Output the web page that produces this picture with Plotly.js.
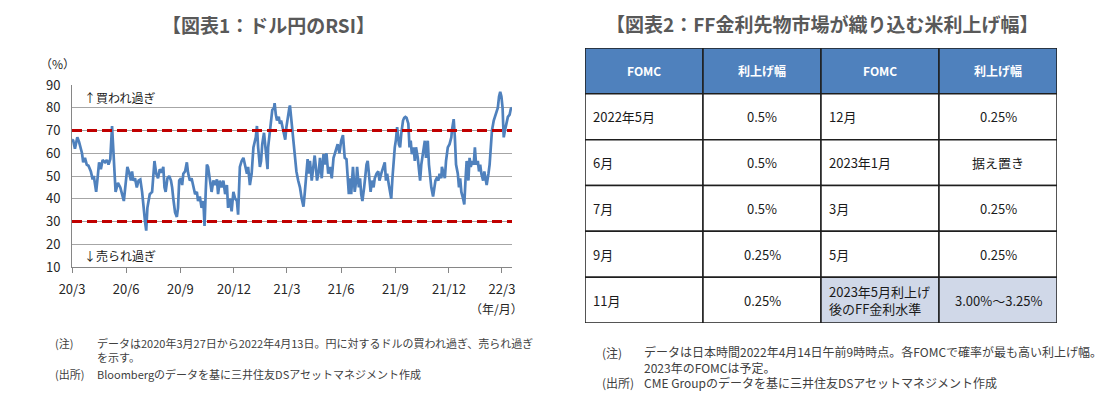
<!DOCTYPE html>
<html>
<head>
<meta charset="utf-8">
<script src="https://cdn.plot.ly/plotly-3.0.1.min.js"></script>
<style>
  html, body { margin: 0; padding: 0; background: #ffffff; }
  #chart { width: 1118px; height: 397px; }
</style>
</head>
<body>
<div id="chart"></div>
<script>
// ---------- Data: USD/JPY RSI ----------
const startDate = '2020-03-27';
const endDate = '2022-04-13';
// days elapsed since startDate for each reading
const dayOffset = [0,2,5,9,12,17,19,22,25,28,32,35,37,41,43,46,49,52,56,59,62,65,68,69,72,74,78,82,85,88,92,94,97,100,102,104,107,110,113,116,119,121,124,126,128,132,136,140,143,
146,149,152,155,157,159,162,165,168,170,172,175,178,180,182,185,187,189,192,195,197,200,203,206,209,212,214,217,220,223,225,227,229,231,234,237,240,243,246,248,251,254,257,260,263,265,268,271,274,277,280,282,285,288,291,294,297,299,
302,305,306,308,312,314,316,319,321,323,326,328,330,332,333,336,338,340,343,344,346,348,351,353,355,357,360,362,364,366,369,370,373,376,378,381,384,387,390,393,395,398,400,402,404,407,410,412,414,416,419,421,424,427,429,432,435,438,441,444,446,449,
451,454,457,460,463,466,468,470,472,474,477,480,483,484,487,489,491,493,496,498,500,502,505,507,509,512,514,517,520,522,525,528,531,533,535,538,540,542,544,546,548,550,552,555,557,559,562,564,566,568,571,573,575,577,580,582,584,587,589,591,593,596,599,
601,604,606,608,610,613,615,617,619,622,624,627,628,631,633,635,638,641,644,645,648,650,651,652,655,657,659,661,664,666,668,670,673,675,677,679,682,684,686,689,691,693,695,698,700,702,704,707,709,711,713,716,718,720,723,725,727,729,731,732,733,735,737,740,743,745,747];
const rsi = [66,65.6,62,67,65,60,56,58,55,54.5,52,48.5,50,43,48,56,53,57,56,57,55,57.5,72,67,53,43,47,45,42,39,49,54,51.5,48,52,48,49,45,48,48.5,43,37,30,26,36,42,43,56.6,51,
49,53,51.5,54,45,43,49,50,48,45,40,34,32,36,48,49,46,51,52,56,51.5,48,49,45,42,43,39,41,36,39,28,43,55,54,48,43,48,46,48.5,42,48,45,48,42,46,36,40,34.5,43,40,39,33,54,56.6,58,54.5,51,54,
46,51,55,62.6,67,72,62.6,54,56.6,64,69,62.6,56.6,53,62.6,70,73,79,80,82,77,74.4,76,73,74.4,71.5,68.5,66,71.5,76,80,81,73,64,56.6,52,48,45,40,36.5,42,52,57.4,51,56.6,48,55,59,54,48,52,58,49,59.6,55,60,51,54,49,58,59.6,62.6,
64,60,65.5,68,58,57.4,48,42,49,42,54,43,49,54,45,49,42,39,45,51,55,56.6,49,43,48,45,49,51,52,48,51,54,56,48,51,46,42,40,49,58,62.6,66,71.5,64,62.6,68.5,74.4,75.6,76,75.6,73,62.6,65.5,59.6,62.6,56.6,62.6,58,54,48,55,59.6,65.5,
58,65.5,55,49,45,41,45,48,49,48,51,49,54,50,49,56.6,62.6,64,67,70,75,67,62.6,55,51,45,49,43,40,37.5,48,56.6,48,58,54,56.6,55,62.6,55,56.6,52,55,51,48,52,49,46,51,55,62.6,70,74.4,76,77,80,85,87,85,80,73,67,70,73,76,77,79.5,80];

const xTickDates = ['2020-03-27','2020-06-27','2020-09-27','2020-12-27','2021-03-27','2021-06-27','2021-09-27','2021-12-27','2022-03-27'];
const xTickLabels = ['20/3','20/6','20/9','20/12','21/3','21/6','21/9','21/12','22/3'];
const yTicks = [10,20,30,40,50,60,70,80,90];
const thresholds = [70, 30];

// ---------- Data: FOMC table ----------
const tableHeader = ['FOMC','利上げ幅','FOMC','利上げ幅'];
const fomcLeft = ['2022年5月','6月','7月','9月','11月'];
const hikeLeft = ['0.5%','0.5%','0.5%','0.25%','0.25%'];
const fomcRight = ['12月','2023年1月','3月','5月','2023年5月利上げ<br>後のFF金利水準'];
const hikeRight = ['0.25%','据え置き','0.25%','0.25%','3.00%～3.25%'];

// ---------- Texts ----------
const title1 = '【図表1：ドル円のRSI】';
const title2 = '【図表2：FF金利先物市場が織り込む米利上げ幅】';
const note1 = ['データは2020年3月27日から2022年4月13日。円に対するドルの買われ過ぎ、売られ過ぎ','を示す。'];
const source1 = 'Bloombergのデータを基に三井住友DSアセットマネジメント作成';
const note2 = ['データは日本時間2022年4月14日午前9時時点。各FOMCで確率が最も高い利上げ幅。','2023年のFOMCは予定。'];
const source2 = 'CME Groupのデータを基に三井住友DSアセットマネジメント作成';

// ---------- Build ----------
const W = 1118, H = 397;
const px = v => v / W;
const py = v => 1 - v / H;
const FONT = '"Noto Sans CJK JP", "Noto Sans", sans-serif';

function addDays(base, n) {
  const p = base.split('-').map(Number);
  const d = new Date(Date.UTC(p[0], p[1] - 1, p[2] + n));
  return d.toISOString().slice(0, 10);
}
const dates = dayOffset.map(d => addDays(startDate, d));

const traces = [
  {
    type: 'scatter', mode: 'lines', x: dates, y: rsi,
    line: { color: '#4f81bd', width: 2.7 }, hoverinfo: 'skip',
    xaxis: 'x', yaxis: 'y'
  },
  {
    type: 'scatter', mode: 'markers', x: [0.5], y: [0.5],
    marker: { opacity: 0 }, hoverinfo: 'skip', xaxis: 'x2', yaxis: 'y2'
  }
];

const shapes = [];
thresholds.forEach(t => {
  shapes.push({
    type: 'line', xref: 'x domain', yref: 'y', x0: 0, x1: 1, y0: t, y1: t,
    line: { color: '#c00000', width: 3, dash: '10px,5px' }, layer: 'above'
  });
});

// table cells
const nRows = fomcLeft.length + 1;
const columns = [fomcLeft, hikeLeft, fomcRight, hikeRight];
for (let r = 0; r < nRows; r++) {
  for (let c = 0; c < 4; c++) {
    let fill = '#ffffff';
    if (r === 0) fill = '#4f81bd';
    else if (r === nRows - 1 && c >= 2) fill = '#d0d8e8';
    shapes.push({
      type: 'rect', xref: 'x2', yref: 'y2', x0: c, x1: c + 1, y0: r, y1: r + 1,
      fillcolor: fill, line: { color: '#1e1e1e', width: 1.5 }, layer: 'below'
    });
  }
}

const annotations = [];
function ann(o) {
  annotations.push(Object.assign({ showarrow: false, xref: 'paper', yref: 'paper', yanchor: 'middle' }, o));
}
// titles
ann({ text: title1, x: px(268), y: py(24), xanchor: 'center', font: { family: FONT, size: 19, color: '#595959', weight: 700 } });
ann({ text: title2, x: px(822), y: py(23), xanchor: 'center', font: { family: FONT, size: 19, color: '#595959', weight: 700 } });
// chart labels
ann({ text: '（%）', x: px(57), y: py(64), xanchor: 'center', font: { family: FONT, size: 12, color: '#262626' } });
ann({ text: '↑買われ過ぎ', x: px(82), y: py(98), xanchor: 'left', font: { family: FONT, size: 12, color: '#1a1a1a' } });
ann({ text: '↓売られ過ぎ', x: px(82), y: py(255), xanchor: 'left', font: { family: FONT, size: 12, color: '#1a1a1a' } });
ann({ text: '（年/月）', x: px(496), y: py(308), xanchor: 'center', font: { family: FONT, size: 12, color: '#262626' } });
// notes
const noteFont1 = { family: FONT, size: 11, color: '#404040' };
const noteFont2 = { family: FONT, size: 12, color: '#404040' };
ann({ text: '(注)', x: px(53), y: py(343), xanchor: 'left', font: noteFont1 });
ann({ text: note1.join('<br>'), x: px(95), y: py(350), xanchor: 'left', align: 'left', font: noteFont1 });
ann({ text: '(出所)', x: px(53), y: py(374), xanchor: 'left', font: noteFont1 });
ann({ text: source1, x: px(95), y: py(374), xanchor: 'left', font: noteFont1 });
ann({ text: '(注)', x: px(600), y: py(352), xanchor: 'left', font: noteFont2 });
ann({ text: note2.join('<br>'), x: px(642), y: py(359.5), xanchor: 'left', align: 'left', font: noteFont2 });
ann({ text: '(出所)', x: px(600), y: py(382), xanchor: 'left', font: noteFont2 });
ann({ text: source2, x: px(642), y: py(382), xanchor: 'left', font: noteFont2 });

// table texts
tableHeader.forEach((h, c) => {
  annotations.push({ showarrow: false, xref: 'x2', yref: 'y2', x: c + 0.5, y: 0.5, text: h,
    xanchor: 'center', yanchor: 'middle', font: { family: FONT, size: 12, color: '#ffffff', weight: 700 } });
});
columns.forEach((col, c) => {
  const leftAligned = (c % 2 === 0);
  col.forEach((txt, i) => {
    annotations.push({ showarrow: false, xref: 'x2', yref: 'y2',
      x: leftAligned ? c + 0.05 : c + 0.5, y: i + 1.5, text: txt,
      xanchor: leftAligned ? 'left' : 'center', yanchor: 'middle', align: leftAligned ? 'left' : 'center',
      font: { family: FONT, size: 13, color: '#1a1a1a' } });
  });
});

const layout = {
  width: W, height: H,
  margin: { l: 0, r: 0, t: 0, b: 0 },
  paper_bgcolor: '#ffffff', plot_bgcolor: 'rgba(0,0,0,0)',
  showlegend: false,
  font: { family: FONT, size: 13, color: '#262626' },
  xaxis: {
    domain: [px(72), px(512)], anchor: 'y', type: 'date',
    range: [startDate, endDate],
    tickmode: 'array', tickvals: xTickDates, ticktext: xTickLabels,
    ticks: 'outside', ticklen: 5, tickcolor: '#868686', tickwidth: 1,
    showline: true, linecolor: '#868686', linewidth: 1,
    showgrid: false, zeroline: false, ticklabelstandoff: 5,
    tickfont: { family: FONT, size: 13, color: '#262626' }, fixedrange: true
  },
  yaxis: {
    domain: [py(267), py(85)], anchor: 'x', range: [10, 90],
    tickmode: 'array', tickvals: yTicks,
    showgrid: true, gridcolor: '#a6a6a6', gridwidth: 1,
    showline: true, linecolor: '#868686', linewidth: 1, zeroline: false,
    ticks: '', ticklabelstandoff: 8,
    tickfont: { family: FONT, size: 13, color: '#262626' }, fixedrange: true
  },
  xaxis2: { domain: [px(585), px(1057)], anchor: 'y2', range: [0, 4], visible: false, fixedrange: true },
  yaxis2: { domain: [py(323), py(48)], anchor: 'x2', range: [nRows, 0], visible: false, fixedrange: true },
  shapes: shapes,
  annotations: annotations
};

Plotly.newPlot('chart', traces, layout, { staticPlot: true, displayModeBar: false });
</script>
</body>
</html>
